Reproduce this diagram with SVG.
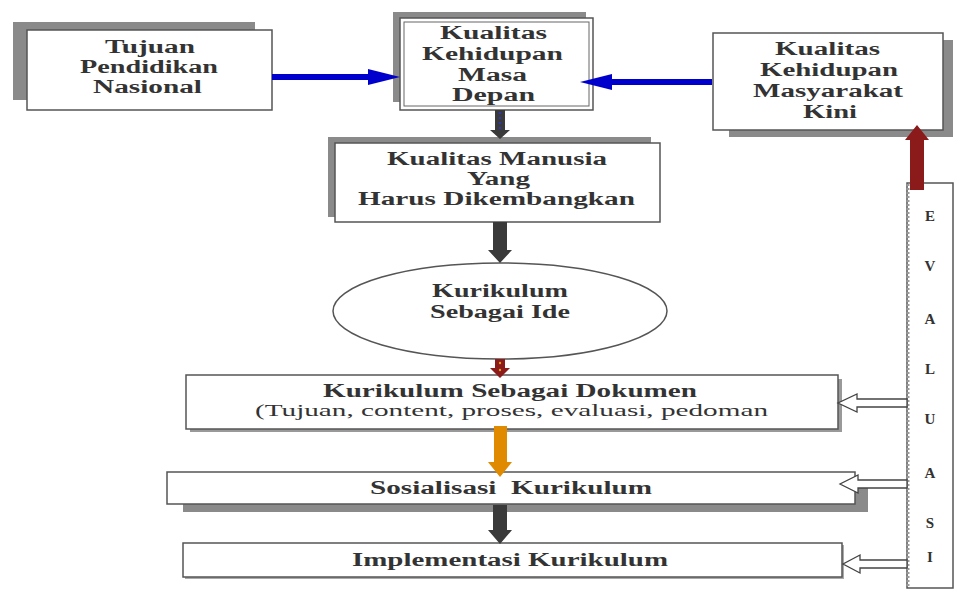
<svg xmlns="http://www.w3.org/2000/svg" width="955" height="590" viewBox="0 0 955 590">
<style>
.t{font-family:'Liberation Serif','DejaVu Serif',serif;font-weight:bold;font-size:18px;fill:#333;}
.r{font-family:'Liberation Serif','DejaVu Serif',serif;font-size:17px;fill:#333;}
.ev{font-family:'Liberation Serif','DejaVu Serif',serif;font-weight:bold;font-size:15px;fill:#333;text-anchor:middle;}
.box{fill:#fff;stroke:#555;stroke-width:1.5;}
.sh{fill:#8a8a8a;}
.dk{fill:#3a3a3a;}
.bl{fill:#0000cc;}
.hol{fill:#fff;stroke:#444;stroke-width:1.3;}
</style>
<rect width="955" height="590" fill="#fff"/>

<g id="tujuan" font-family="Liberation Serif, serif">
<rect class="sh" x="13" y="22" width="242" height="78"/>
<rect class="box" x="27" y="30" width="245" height="80"/>
<text class="t" x="105" y="53" textLength="90" lengthAdjust="spacingAndGlyphs">Tujuan</text>
<text class="t" x="80" y="73" textLength="138" lengthAdjust="spacingAndGlyphs">Pendidikan</text>
<text class="t" x="93" y="93" textLength="109" lengthAdjust="spacingAndGlyphs">Nasional</text>
</g>

<g id="masadepan" font-family="Liberation Serif, serif">
<rect class="sh" x="393" y="12" width="193" height="90"/>
<rect class="box" x="400" y="18" width="193" height="92"/>
<rect x="404" y="22" width="185" height="84" fill="none" stroke="#666" stroke-width="1"/>
<text class="t" x="440" y="39" textLength="107" lengthAdjust="spacingAndGlyphs">Kualitas</text>
<text class="t" x="422" y="60" textLength="141" lengthAdjust="spacingAndGlyphs">Kehidupan</text>
<text class="t" x="458" y="81" textLength="69" lengthAdjust="spacingAndGlyphs">Masa</text>
<text class="t" x="452" y="101" textLength="83" lengthAdjust="spacingAndGlyphs">Depan</text>
</g>

<g id="masyarakat" font-family="Liberation Serif, serif">
<rect class="sh" x="729" y="40" width="224" height="97"/>
<rect class="box" x="713" y="33" width="230" height="97"/>
<text class="t" x="775" y="55" textLength="105" lengthAdjust="spacingAndGlyphs">Kualitas</text>
<text class="t" x="760" y="76" textLength="138" lengthAdjust="spacingAndGlyphs">Kehidupan</text>
<text class="t" x="753" y="97" textLength="150" lengthAdjust="spacingAndGlyphs">Masyarakat</text>
<text class="t" x="803" y="118" textLength="54" lengthAdjust="spacingAndGlyphs">Kini</text>
</g>

<g id="manusia" font-family="Liberation Serif, serif">
<rect class="sh" x="328" y="137" width="323" height="80"/>
<rect class="box" x="335" y="143" width="325" height="79"/>
<text class="t" x="387" y="165" textLength="220" lengthAdjust="spacingAndGlyphs">Kualitas Manusia</text>
<text class="t" x="467" y="185" textLength="63" lengthAdjust="spacingAndGlyphs">Yang</text>
<text class="t" x="358" y="205" textLength="277" lengthAdjust="spacingAndGlyphs">Harus Dikembangkan</text>
</g>

<g id="ide" font-family="Liberation Serif, serif">
<ellipse class="box" cx="500" cy="311" rx="167" ry="48"/>
<text class="t" x="432" y="297" textLength="136" lengthAdjust="spacingAndGlyphs">Kurikulum</text>
<text class="t" x="430" y="318" textLength="140" lengthAdjust="spacingAndGlyphs">Sebagai Ide</text>
</g>

<g id="dokumen" font-family="Liberation Serif, serif">
<rect x="190" y="379" width="652" height="53" fill="#999"/>
<rect class="box" x="186" y="375" width="652" height="54"/>
<text class="t" x="323" y="397" textLength="374" lengthAdjust="spacingAndGlyphs">Kurikulum Sebagai Dokumen</text>
<text class="r" x="255" y="416" textLength="513" lengthAdjust="spacingAndGlyphs">(Tujuan, content, proses, evaluasi, pedoman</text>
</g>

<g id="sosialisasi" font-family="Liberation Serif, serif">
<rect class="sh" x="183" y="480" width="685" height="32"/>
<rect class="box" x="167" y="472" width="688" height="32"/>
<text class="t" x="370" y="494" textLength="282" lengthAdjust="spacingAndGlyphs" style="white-space:pre">Sosialisasi  Kurikulum</text>
</g>

<g id="implementasi" font-family="Liberation Serif, serif">
<rect x="185" y="545" width="659" height="34" fill="#aaa"/>
<rect class="box" x="183" y="543" width="659" height="34"/>
<text class="t" x="352" y="566" textLength="316" lengthAdjust="spacingAndGlyphs">Implementasi Kurikulum</text>
</g>

<g id="evaluasi" font-family="Liberation Serif, serif">
<rect class="box" x="907" y="183" width="46" height="405"/>
<line x1="908" y1="184" x2="908" y2="588" stroke="#999" stroke-width="3" stroke-dasharray="2,2"/>
<text class="ev" x="930" y="221">E</text>
<text class="ev" x="930" y="271">V</text>
<text class="ev" x="930" y="324">A</text>
<text class="ev" x="930" y="374">L</text>
<text class="ev" x="930" y="424">U</text>
<text class="ev" x="930" y="478">A</text>
<text class="ev" x="930" y="528">S</text>
<text class="ev" x="930" y="562">I</text>
</g>

<g id="connectors">
<polygon class="bl" points="272,74 368,74 368,69 400,77 368,85 368,80 272,80"/>
<polygon class="bl" points="712,79 612,79 612,74 580,82 612,90 612,85 712,85"/>
<polygon class="dk" points="495,110 505,110 505,130 510,130 500,139 490,130 495,130"/>
<line x1="500" y1="112" x2="500" y2="132" stroke="#2233ff" stroke-width="1.5" stroke-dasharray="2,3"/>
<polygon class="dk" points="493,222 507,222 507,250 512,250 500,263 488,250 493,250"/>
<polygon fill="#8b1a1a" points="495,359 505,359 505,368 510,368 500,378 490,368 495,368"/>
<circle cx="500" cy="363" r="1.2" fill="#e0a020"/>
<circle cx="500" cy="370" r="1.2" fill="#e0a020"/>
<polygon fill="#e08a00" points="494,426 507,426 507,462 512,462 500,477 488,462 494,462"/>
<polygon class="dk" points="493,505 507,505 507,530 512,530 500,544 488,530 493,530"/>
<polygon fill="#8b1a1a" points="910,190 924,190 924,140 929,140 917,125 905,140 910,140"/>
<polygon class="hol" points="907,399 857,399 857,394 838,403 857,412 857,407 907,407"/>
<polygon class="hol" points="907,480 858,480 858,475 840,484 858,493 858,488 907,488"/>
<polygon class="hol" points="907,560 860,560 860,555 843,564 860,573 860,568 907,568"/>
</g>
</svg>
